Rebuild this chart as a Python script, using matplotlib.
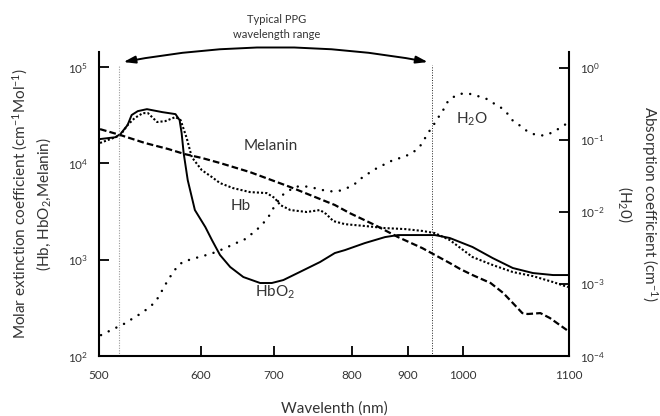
import numpy as np
import matplotlib
matplotlib.use("Agg")
import matplotlib.pyplot as plt
from matplotlib.ticker import LogLocator, NullLocator, FixedLocator

plt.rcParams["font.family"] = ["Lato", "DejaVu Sans"]
plt.rcParams["mathtext.fontset"] = "custom"
plt.rcParams["mathtext.rm"] = "Lato"
plt.rcParams["mathtext.default"] = "regular"

# ---- data ----
hbo2_wl = [501, 516, 521, 528, 532, 538, 547, 562, 575, 579, 581, 583, 587, 594, 606, 615, 626, 640, 658, 681,
           697, 712, 733, 759, 778, 791, 823, 859, 882, 918, 949, 976, 1009, 1028, 1047, 1066, 1085, 1099]
hbo2_eps = [17900, 18700, 20200, 25000, 31800, 34900, 36600, 34100, 32500, 28200, 20700, 12800, 6700, 3280, 2180,
            1600, 1120, 840, 661, 573, 573, 615, 745, 946, 1173, 1259, 1489, 1718, 1803, 1803, 1803, 1680, 1355,
            1040, 820, 727, 693, 693]

hb_wl = [501, 516, 521, 528, 535, 543, 548, 557, 565, 575, 580, 586, 591, 601, 615, 626, 644, 667, 690, 701,
         708, 721, 742, 759, 767, 776, 791, 823, 859, 895, 926, 949, 976, 1009, 1028, 1047, 1066, 1085, 1099]
hb_eps = [16300, 18700, 19700, 25000, 29600, 33300, 33300, 26900, 27500, 30300, 28200, 18300, 11600, 8530, 7210,
          6250, 5540, 5040, 4920, 4370, 3700, 3280, 3130, 3280, 2980, 2520, 2340, 2240, 2130, 2080, 1990, 1890,
          1600, 1066, 881, 745, 676, 586, 520]

mel_wl = [501, 521, 545, 568, 584, 601, 626, 667, 721, 778, 797, 841, 882, 926, 949, 976, 995, 1009, 1026, 1038,
          1047, 1056, 1061, 1073, 1082, 1098]
mel_eps = [22700, 19700, 16300, 14100, 12500, 11400, 10100, 8130, 5680, 3700, 3050, 2290, 1720, 1320, 1120, 923,
           800, 693, 573, 451, 355, 279, 273, 279, 248, 186]

h2o_wl = [502, 510, 518, 526, 532, 540, 547, 554, 559, 563, 567, 572, 577, 583, 591, 600, 612, 633, 647, 658,
          667, 677, 685, 692, 699, 710, 727, 742, 755, 765, 776, 785, 795, 809, 820, 832, 846, 861, 875, 889,
          906, 918, 927, 935, 944, 953, 962, 969, 980, 995, 1006, 1013, 1022, 1028, 1036, 1042, 1047, 1054, 1060,
          1068, 1076, 1084, 1092, 1099]
h2o_mu = [1.95e-4, 2.22e-4, 2.52e-4, 2.86e-4, 3.25e-4, 3.81e-4, 4.47e-4, 5.42e-4, 6.77e-4, 8.73e-4,
          1.09e-3, 1.41e-3, 1.76e-3, 2.07e-3, 2.20e-3, 2.42e-3, 2.58e-3, 3.13e-3, 3.67e-3, 4.03e-3,
          4.73e-3, 5.73e-3, 6.93e-3, 8.39e-3, 1.12e-2, 1.69e-2, 2.25e-2, 2.25e-2, 2.11e-2, 1.98e-2,
          1.92e-2, 1.98e-2, 2.18e-2, 2.56e-2, 3.10e-2, 3.52e-2, 4.13e-2, 4.69e-2, 5.33e-2, 5.68e-2,
          6.45e-2, 7.57e-2, 9.16e-2, 0.122, 0.148, 0.197, 0.238, 0.318, 0.385, 0.437,
          0.437, 0.410, 0.372, 0.328, 0.279, 0.231, 0.185, 0.157, 0.134, 0.118,
          0.115, 0.126, 0.148, 0.173]

x_ticks = [500, 600, 700, 800, 900, 1000, 1100]
ppg_range = (520, 944)

# the wavelength axis in the reference is not evenly spaced between ticks
axis_breaks = [0, 102, 175, 253, 309, 364, 470]
wl_ext = [-10000] + x_ticks + [10000]
pos_ext = [-10500 * 1.02] + axis_breaks + [470 + 8900 * 1.06]


def fwd(x):
    return np.interp(x, wl_ext, pos_ext)


def inv(p):
    return np.interp(p, pos_ext, wl_ext)


txt = "#333333"
fig = plt.figure(figsize=(6.6, 4.16), dpi=100)
ax = fig.add_axes([0.15, 0.1442, 0.7121, 0.7308])
ax2 = ax.twinx()

ax.set_xscale("function", functions=(fwd, inv))
ax.set_yscale("log")
ax2.set_yscale("log")
ax.set_xlim(500, 1100)
ax.set_ylim(1e2, 10 ** 5.157)
ax2.set_ylim(1e-4, 10 ** 0.22)

ax.plot(hbo2_wl, hbo2_eps, color="black", lw=1.4, solid_capstyle="round", solid_joinstyle="round")
ax.plot(hb_wl, hb_eps, color="black", lw=1.5, linestyle=(0, (1, 1)))
ax.plot(mel_wl, mel_eps, color="black", lw=1.6, linestyle=(0, (3, 1.4)))
ax2.plot(h2o_wl, h2o_mu, color="black", lw=1.8, linestyle=(0, (0.01, 3.4)), dash_capstyle="round")

# PPG range markers
ax.axvline(ppg_range[0], ymax=0.957, color="#999999", lw=0.8, linestyle=(0, (1, 1.3)))
ax.axvline(ppg_range[1], ymax=0.957, color="#222222", lw=0.7, linestyle=(0, (1, 1.6)))
ax.annotate("", xy=(524, 0.967), xytext=(936, 0.967),
            xycoords=ax.get_xaxis_transform(), textcoords=ax.get_xaxis_transform(),
            arrowprops=dict(arrowstyle="<|-|>,head_length=0.7,head_width=0.22", color="black", lw=1.4,
                            connectionstyle="arc3,rad=0.095", shrinkA=0, shrinkB=0),
            annotation_clip=False)
ax.text(0.379, 1.082, "Typical PPG\nwavelength range", transform=ax.transAxes, ha="center", va="center",
        fontsize=8, color=txt, linespacing=1.5)

# curve labels
ax.text(696, 10 ** 4.18, "Melanin", ha="center", va="center", fontsize=11, color=txt)
ax.text(655, 10 ** 3.56, "Hb", ha="center", va="center", fontsize=11, color=txt)
ax.text(701, 10 ** 2.66, "HbO$_2$", ha="center", va="center", fontsize=11, color=txt)
ax.text(1008, 10 ** 4.46, "H$_2$O", ha="center", va="center", fontsize=11, color=txt)

# axes styling
for a in (ax, ax2):
    a.spines["top"].set_visible(False)
    for s in ("left", "right", "bottom"):
        a.spines[s].set_linewidth(1.5)
ax.spines["right"].set_visible(False)
ax2.spines["left"].set_visible(False)
ax2.spines["bottom"].set_visible(False)

ax.xaxis.set_major_locator(FixedLocator(x_ticks))
ax.xaxis.set_minor_locator(NullLocator())
ax.set_xticklabels([str(t) for t in x_ticks])
ax.yaxis.set_major_locator(LogLocator(base=10, numticks=10))
ax.yaxis.set_minor_locator(NullLocator())
ax2.yaxis.set_major_locator(LogLocator(base=10, numticks=10))
ax2.yaxis.set_minor_locator(NullLocator())

ax.tick_params(axis="x", direction="in", length=7, width=1.3, pad=10, labelsize=8.5, colors="black",
               labelcolor=txt)
ax.tick_params(axis="y", direction="in", length=7, width=1.3, pad=8, labelsize=8.5, colors="black",
               labelcolor=txt)
ax2.tick_params(axis="y", direction="in", length=7, width=1.3, pad=8, labelsize=8.5, colors="black",
                labelcolor=txt)

fig.text(0.506, 0.019, "Wavelenth (nm)", ha="center", va="center", fontsize=11, color=txt)
fig.text(0.048, 0.51, "Molar extinction coefficient (cm$^{-1}$Mol$^{-1}$)\n(Hb, HbO$_2$,Melanin)",
         ha="center", va="center", rotation=90, fontsize=11, color=txt, linespacing=1.3)
fig.text(0.967, 0.51, "Absorption coefficient (cm$^{-1}$)\n(H$_2$0)",
         ha="center", va="center", rotation=270, fontsize=11, color=txt, linespacing=1.3)

fig.savefig("out.png", dpi=100)
